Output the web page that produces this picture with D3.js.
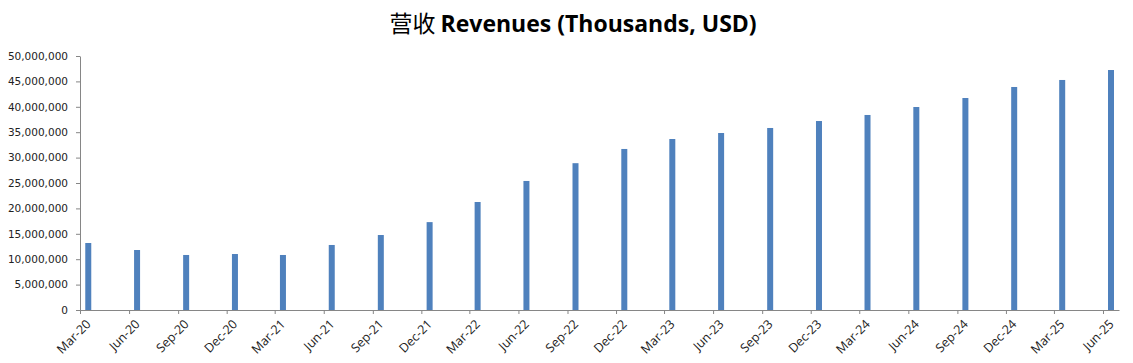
<!DOCTYPE html>
<html>
<head>
<meta charset="utf-8">
<script src="https://cdn.jsdelivr.net/npm/d3@7"></script>
<style>
  body { margin: 0; background: #fff; }
  svg { display: block; }
</style>
</head>
<body>
<svg id="chart"></svg>
<script>
var w = 1133;
var h = 363;

// quarter labels and revenue values (thousands USD)
var quarters = ["Mar-20", "Jun-20", "Sep-20", "Dec-20", "Mar-21", "Jun-21", "Sep-21", "Dec-21",
    "Mar-22", "Jun-22", "Sep-22", "Dec-22", "Mar-23", "Jun-23", "Sep-23", "Dec-23",
    "Mar-24", "Jun-24", "Sep-24", "Dec-24", "Mar-25", "Jun-25"];
var revenues = [13190000, 11810000, 10830000, 11020000, 10830000, 12800000, 14760000, 17300000,
    21260000, 25400000, 28900000, 31700000, 33660000, 34840000, 35830000, 37200000,
    38390000, 39960000, 41730000, 43900000, 45280000, 47240000];
var yTicks = [0, 5000000, 10000000, 15000000, 20000000, 25000000, 30000000, 35000000, 40000000, 45000000, 50000000];

var parse = d3.timeParse("%b-%y");
var dataset = quarters.map((q, i) => ({ date: parse(q), value: revenues[i] }));

let svg = d3.select("#chart")
    .attr("width", w)
    .attr("height", h);

let padLeft = 80, padRight = 1119, padTop = 56, padBottom = 310;

//date axis like excel: a slot per month, ticks at month start
let xScale = d3.scaleTime()
    .domain([dataset[0].date, d3.timeMonth.offset(dataset[dataset.length - 1].date, 1)])
    .range([padLeft, padRight]);

let yScale = d3.scaleLinear()
    .domain([0, 50000000])
    .range([padBottom, padTop]);

svg.append("text")
    .attr("x", 573)
    .attr("y", 32)
    .attr("text-anchor", "middle")
    .style("font-family", "'Open Sans', sans-serif")
    .style("font-size", "23px")
    .style("font-weight", "bold")
    .call(t => {
        t.append("tspan").text("营收 ")
            .style("font-family", "'Noto Sans CJK SC'")
            .style("font-weight", "normal");
        t.append("tspan").text("Revenues (Thousands, USD)");
    });

//bars in the middle of their month
let barW = 6;
svg.append("g")
    .selectAll("rect")
    .data(dataset)
    .join("rect")
    .attr("x", d => (xScale(d.date) + xScale(d3.timeMonth.offset(d.date, 1))) / 2 - barW / 2)
    .attr("y", d => yScale(d.value))
    .attr("width", barW)
    .attr("height", d => yScale(0) - yScale(d.value))
    .attr("fill", "#4f81bd");

let yAxis = d3.axisLeft(yScale)
    .tickValues(yTicks)
    .tickFormat(d3.format(","))
    .tickSizeInner(4)
    .tickSizeOuter(0)
    .tickPadding(8);

let gy = svg.append("g")
    .attr("transform", `translate(${padLeft}, 0)`)
    .call(yAxis);
gy.selectAll("text")
    .style("font-family", "'DejaVu Sans', sans-serif")
    .style("font-size", "10.5px")
    .attr("fill", "#222");

let xAxis = d3.axisBottom(xScale)
    .tickValues(dataset.map(d => d.date))
    .tickFormat(d3.timeFormat("%b-%y"))
    .tickSizeInner(4)
    .tickSizeOuter(0);

let gx = svg.append("g")
    .attr("transform", `translate(0, ${padBottom})`)
    .call(xAxis);
gx.selectAll("text")
    .style("font-family", "'Open Sans', sans-serif")
    .style("font-size", "12.5px")
    .attr("fill", "#222")
    .attr("text-anchor", "end")
    .attr("dy", null)
    .attr("y", 0)
    .attr("transform", "translate(11, 15) rotate(-45)");

svg.selectAll(".domain, .tick line")
    .attr("stroke", "#868686");
</script>
</body>
</html>
